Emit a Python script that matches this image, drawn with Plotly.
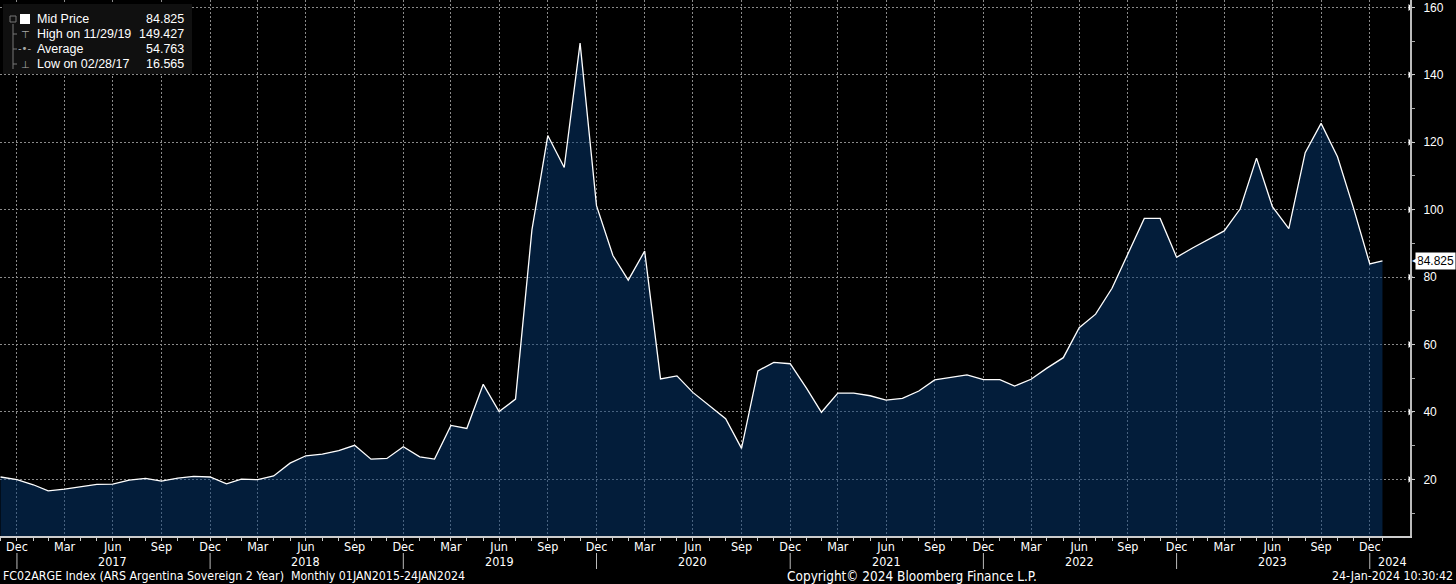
import pandas as pd
import plotly.graph_objects as go

# --- Données (fin de mois, Nov 2016 -> 24 Jan 2024) ---
dates = list(pd.date_range("2016-11-30", periods=86, freq="ME").strftime("%Y-%m-%d")) + ["2024-01-24"]
mid_price = [
    20.7, 19.9,
    18.4, 16.6, 17.1, 17.8, 18.5, 18.6, 19.8, 20.3, 19.5, 20.4, 20.9, 20.7,
    18.7, 20.1, 19.9, 21.0, 24.8, 27.0, 27.5, 28.5, 30.1, 26.0, 26.2, 29.7,
    26.7, 26.0, 36.0, 35.1, 48.2, 40.1, 43.8, 94.0, 122.0, 112.5, 149.427, 101.2,
    86.4, 79.1, 87.7, 49.8, 50.7, 45.8, 42.0, 38.0, 29.2, 52.2, 54.7, 54.3,
    47.0, 39.9, 45.6, 45.6, 44.8, 43.5, 44.0, 46.2, 49.5, 50.3, 51.0, 49.6,
    49.6, 47.7, 49.7, 53.0, 56.1, 65.0, 69.0, 76.7, 87.1, 97.4, 97.4, 85.9,
    88.7, 91.0, 93.7, 100.2, 115.3, 100.9, 94.4, 116.9, 125.6, 115.7, 100.6, 83.9,
    84.825,
]

# Ticks de l'axe X (trimestriels) et années
tick_dates = [d for d in dates if d[5:7] in ("12", "03", "06", "09")]
tick_labels = [{"12": "Dec", "03": "Mar", "06": "Jun", "09": "Sep"}[d[5:7]] for d in tick_dates]
year_labels = ["2017", "2018", "2019", "2020", "2021", "2022", "2023"]
year_dates = ["2017-06-30", "2018-06-30", "2019-06-30", "2020-06-30",
              "2021-06-30", "2022-06-30", "2023-06-30"]
dec_dates = [d for d in dates if d[5:7] == "12"]

y_ticks = [20, 40, 60, 80, 100, 120, 140, 160]

# Légende Bloomberg
legend_names = ["Mid Price", "High on 11/29/19", "Average", "Low on 02/28/17"]
legend_values = ["84.825", "149.427", "54.763", "16.565"]
legend_icons = ["", "⊤", "-•-", "⊥"]

X_END = "2024-03-16"
FONT = "Liberation Sans Narrow, DejaVu Sans Condensed, Arial Narrow, Liberation Sans, sans-serif"
PLOT_W, PLOT_H = 1410, 536

fig = go.Figure()

fig.add_trace(go.Scatter(
    x=dates, y=mid_price, mode="lines",
    line=dict(color="white", width=1.3),
    fill="tozeroy", fillcolor="rgba(6,58,116,0.5)",
    showlegend=False, hoverinfo="x+y",
))

# Petits triangles sur l'axe Y
fig.add_trace(go.Scatter(
    x=[X_END] * len(y_ticks), y=y_ticks, mode="markers",
    marker=dict(symbol="triangle-right", size=6, color="white"),
    cliponaxis=False, showlegend=False, hoverinfo="skip",
))

shapes = []
annotations = []

def px_x(p):
    return p / PLOT_W

def px_y(p):
    return 1 - p / PLOT_H

# Boîte de légende
shapes.append(dict(type="rect", xref="paper", yref="paper",
                   x0=px_x(3), x1=px_x(192), y0=px_y(74), y1=px_y(4),
                   fillcolor="rgb(16,16,16)", line=dict(width=0), layer="above"))
shapes.append(dict(type="rect", xref="paper", yref="paper",
                   x0=px_x(20), x1=px_x(30), y0=px_y(24), y1=px_y(14),
                   fillcolor="white", line=dict(width=0), layer="above"))
shapes.append(dict(type="line", xref="paper", yref="paper",
                   x0=px_x(13), x1=px_x(13), y0=px_y(24), y1=px_y(69),
                   line=dict(color="#777", width=1), layer="above"))
shapes.append(dict(type="rect", xref="paper", yref="paper",
                   x0=px_x(10), x1=px_x(16), y0=px_y(22), y1=px_y(16),
                   fillcolor="rgb(16,16,16)", line=dict(color="#777", width=1), layer="above"))
for i in range(1, 4):
    shapes.append(dict(type="line", xref="paper", yref="paper",
                       x0=px_x(13), x1=px_x(17), y0=px_y(19 + 15 * i), y1=px_y(19 + 15 * i),
                       line=dict(color="#777", width=1), layer="above"))

for i, (name, val, icon) in enumerate(zip(legend_names, legend_values, legend_icons)):
    yy = px_y(19 + 15 * i)
    annotations.append(dict(x=px_x(35), y=yy, xref="paper", yref="paper", text=name,
                            showarrow=False, xanchor="left", yanchor="middle",
                            font=dict(family="Liberation Sans, Arial, sans-serif", size=12.5, color="white")))
    annotations.append(dict(x=px_x(186), y=yy, xref="paper", yref="paper", text=val,
                            showarrow=False, xanchor="right", yanchor="middle",
                            font=dict(family="Liberation Sans, Arial, sans-serif", size=12.5, color="white")))
    if icon:
        annotations.append(dict(x=px_x(25), y=yy, xref="paper", yref="paper", text=icon,
                                showarrow=False, xanchor="center", yanchor="middle",
                                font=dict(family="DejaVu Sans, sans-serif", size=10, color="#aaa")))

# Années sous l'axe X
for yr, d in zip(year_labels, year_dates):
    annotations.append(dict(x=d, y=px_y(561), xref="x", yref="paper", text=yr,
                            showarrow=False, xanchor="center", yanchor="middle",
                            font=dict(family=FONT, size=12.5, color="white")))
annotations.append(dict(x=dec_dates[-1], y=px_y(561), xref="x", yref="paper", text="2024",
                        showarrow=False, xanchor="left", yanchor="middle", xshift=6,
                        font=dict(family=FONT, size=12.5, color="white")))
for d in dec_dates:
    shapes.append(dict(type="line", xref="x", yref="paper", x0=d, x1=d,
                       y0=px_y(553), y1=px_y(569), line=dict(color="#bbb", width=1)))

# Étiquette du dernier prix
annotations.append(dict(x=1, y=mid_price[-1], xref="paper", yref="y", text="84.825",
                        showarrow=False, xanchor="left", yanchor="middle", xshift=5,
                        bgcolor="white", borderpad=1,
                        font=dict(family="Liberation Sans, Arial, sans-serif", size=12, color="black")))
annotations.append(dict(x=1, y=mid_price[-1], xref="paper", yref="y", text="◀",
                        showarrow=False, xanchor="left", yanchor="middle", xshift=0,
                        font=dict(family="DejaVu Sans, sans-serif", size=8, color="white")))

# Pied de page
foot_font = dict(family=FONT, size=12.3, color="white")
annotations.append(dict(x=0, y=px_y(576), xref="paper", yref="paper",
                        text="FC02ARGE Index (ARS Argentina Sovereign 2 Year)  Monthly 01JAN2015-24JAN2024",
                        showarrow=False, xanchor="left", yanchor="middle", xshift=1, font=foot_font))
annotations.append(dict(x=px_x(912), y=px_y(576), xref="paper", yref="paper",
                        text="Copyright© 2024 Bloomberg Finance L.P.",
                        showarrow=False, xanchor="center", yanchor="middle",
                        font=dict(family=FONT, size=13.5, color="white")))
annotations.append(dict(x=px_x(1455), y=px_y(576), xref="paper", yref="paper",
                        text="24-Jan-2024 10:30:42",
                        showarrow=False, xanchor="right", yanchor="middle", font=foot_font))

fig.update_layout(
    width=1456, height=584,
    margin=dict(l=0, r=1456 - PLOT_W, t=0, b=584 - PLOT_H),
    paper_bgcolor="black", plot_bgcolor="black",
    showlegend=False,
    shapes=shapes, annotations=annotations,
    xaxis=dict(
        type="date", range=["2016-11-29", X_END],
        tickmode="array", tickvals=tick_dates, ticktext=tick_labels,
        ticks="outside", ticklen=2, tickcolor="#ccc",
        tickfont=dict(family=FONT, size=12.5, color="white"),
        showgrid=True, gridcolor="#8a8a8a", griddash="2px,2px", gridwidth=1,
        minor=dict(tickmode="array", tickvals=dates, ticks="outside", ticklen=3,
                   tickcolor="#ccc", showgrid=False),
        showline=True, linecolor="#ccc", linewidth=2,
        zeroline=False, ticklabelstandoff=-4,
    ),
    yaxis=dict(
        side="right", range=[3.2, 162.2],
        tickmode="array", tickvals=y_ticks,
        ticks="outside", ticklen=3, tickcolor="#ccc",
        tickfont=dict(family="Liberation Sans, Arial, sans-serif", size=12, color="white"),
        showgrid=True, gridcolor="#8a8a8a", griddash="2px,2px", gridwidth=1,
        minor=dict(dtick=10, tick0=0, ticks="outside", ticklen=3, tickcolor="#aaa", showgrid=False),
        showline=True, linecolor="#bbb", linewidth=2,
        zeroline=False, ticklabelstandoff=6,
    ),
)

fig.write_html(
    "out.html",
    config={"displayModeBar": False},
    post_script="document.body.style.margin='0';document.body.style.overflow='hidden';",
)
